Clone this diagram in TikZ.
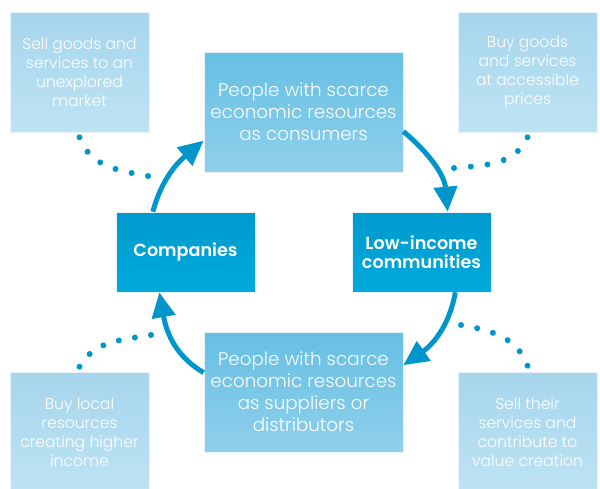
\documentclass[tikz,border=0pt]{standalone}
\usepackage{fontspec}
\setmainfont{Poppins}[UprightFont=* Light, BoldFont=* SemiBold]
\usepackage{tikz}
\usetikzlibrary{arrows.meta, decorations.markings}
\definecolor{darkblue}{HTML}{009ACE}
\definecolor{darkblueb}{HTML}{00AADB}
\definecolor{midblue}{HTML}{66BFE3}
\definecolor{midblueb}{HTML}{8FD0EC}
\definecolor{paleblue}{HTML}{A6D5EC}
\definecolor{palebleb}{HTML}{BEE3F3}
\definecolor{arrowblue}{HTML}{0096CC}
\tikzset{
  box/.style = {rectangle, align=center, inner sep=0pt, text=white,
    draw=white!75!paleblue, line width=0.6pt},
  actor/.style = {box, top color=darkblue, bottom color=darkblueb,
    minimum width=139pt, minimum height=80pt,
    font=\bfseries\fontsize{17.6}{19}\selectfont},% entreprises et communautes
  people/.style = {box, top color=midblue, bottom color=midblueb,
    minimum width=199pt, minimum height=120pt,
    font=\fontsize{18.3}{22}\selectfont},% personnes
  gain/.style = {box, top color=paleblue, bottom color=palebleb,
    minimum width=139pt, minimum height=120pt,
    font=\fontsize{15.6}{19}\selectfont},% benefices
  flow/.style = {arrowblue, line width=5pt,
    -{Triangle[length=25pt, width=23pt]}},
  dotline/.style = {draw=none, postaction={decorate},
    decoration={markings, mark=between positions 0 and 1 step 0.19999
      with {\fill[arrowblue] (0,0) circle (3pt);}}}
}

\begin{document}
\begin{tikzpicture}[x=1pt, y=1pt]
\clip (0,0) rectangle (600,-488);

\node[gain]   (tl) at (79.5,-72)   {Sell goods and\\services to an\\unexplored\\market};
\node[gain]   (tr) at (527.5,-72)  {Buy goods\\and services\\at accessible\\prices};
\node[gain]   (bl) at (79.5,-432)  {Buy local\\resources\\creating higher\\income};
\node[gain]   (br) at (527.5,-432) {Sell their\\services and\\contribute to\\value creation};

\node[people] (tc) at (303.5,-112) {People with scarce\\economic resources\\as consumers};
\node[people] (bc) at (303.5,-392) {People with scarce\\economic resources\\as suppliers or\\distributors};

\node[actor]  (comp) at (185.5,-252) {Companies};
\node[actor]  (low)  at (421.5,-252) {Low-income\\communities};

\coordinate (tlto)   at (148,-176);
\coordinate (trto)   at (454,-168);
\coordinate (blto)   at (151,-335);
\coordinate (brfrom) at (461,-325);

\draw[flow] (comp.129) to[out=75, in=220] (tc.196);
\draw[flow] (tc.-11) to[out=-40, in=95] (low.57);
\draw[flow] (low.-50) to[out=-100, in=35] (bc.15);
\draw[flow] (bc.169) to[out=150, in=-80] (comp.237);

\path[dotline] ([yshift=-5pt]tl.south) to[out=-70, in=170] (tlto);
\path[dotline] ([yshift=-5pt]tr.south) to[out=245, in=5] (trto);
\path[dotline] ([yshift=5pt]bl.north) to[out=60, in=190] (blto);
\path[dotline] (brfrom) to[out=-10, in=110] ([yshift=6pt]br.north);
\end{tikzpicture}
\end{document}
